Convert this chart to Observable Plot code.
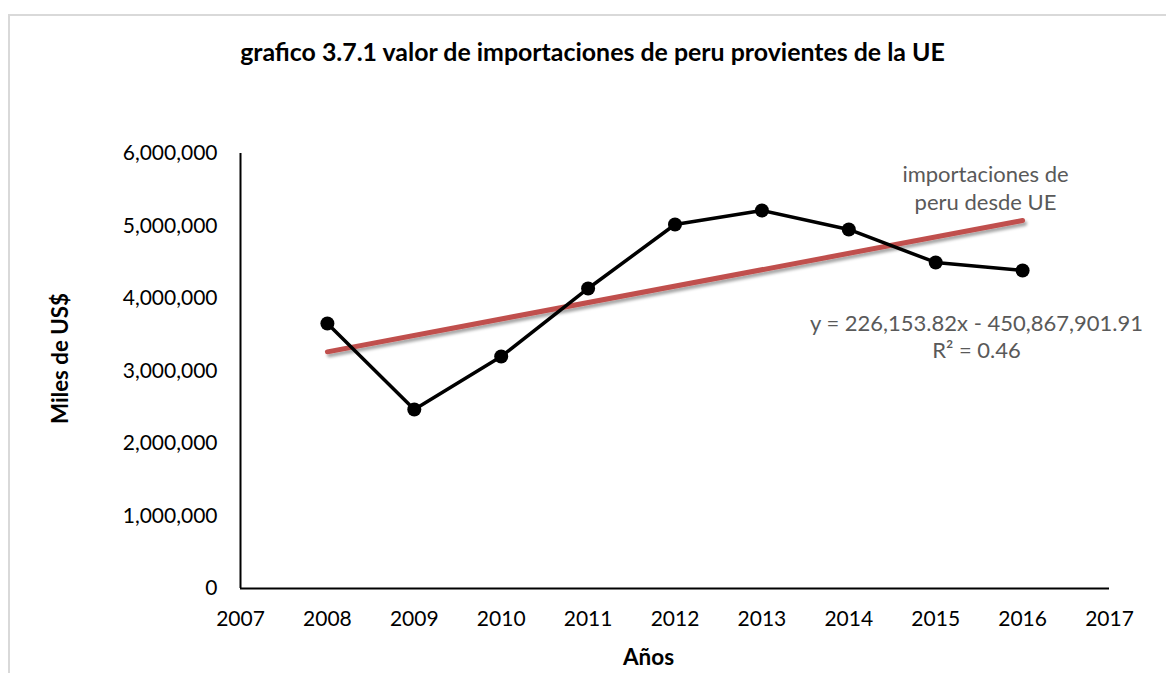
<!DOCTYPE html>
<html>
<head>
<meta charset="utf-8">
<script src="https://cdn.jsdelivr.net/npm/d3@7"></script>
<script src="https://cdn.jsdelivr.net/npm/@observablehq/plot@0.6"></script>
<style>
  html, body { margin: 0; padding: 0; background: #fff; }
  #wrap { position: relative; width: 1166px; height: 673px; overflow: hidden; }
  #border { position: absolute; left: 8px; top: 14px; width: 1200px; height: 700px;
            border-left: 2px solid #d9d9d9; border-top: 2px solid #d9d9d9; }
  #chart { position: absolute; left: 0; top: 0; }
</style>
</head>
<body>
<div id="wrap"><div id="border"></div><div id="chart"></div></div>
<script>
// ---- data ----
const years = [2008, 2009, 2010, 2011, 2012, 2013, 2014, 2015, 2016];
const values = [3655000, 2469000, 3200000, 4138000, 5021000, 5214000, 4952000, 4497000, 4386000];
const xTicks = [2007, 2008, 2009, 2010, 2011, 2012, 2013, 2014, 2015, 2016, 2017];
const yTicks = [0, 1000000, 2000000, 3000000, 4000000, 5000000, 6000000];
const titleText = "grafico 3.7.1 valor de importaciones de peru provientes de la UE";
const yLabel = "Miles de US$";
const xLabel = "Años";
const legendLines = ["importaciones de", "peru desde UE"];
const equationLines = ["y = 226,153.82x - 450,867,901.91", "R² = 0.46"];

const rows = years.map((y, i) => ({year: y, value: values[i]}));

const W = 1166, H = 673, ML = 240, MR = 57, MT = 153, MB = 85;
const FONT = "Lato, 'Open Sans', sans-serif";
// helper: absolute pixel position -> frame-anchored offsets (centered text)
const at = (x, y) => ({frameAnchor: "top-left", dx: x - ML, dy: y - MT, textAnchor: "middle", lineAnchor: "middle"});

const plot = Plot.plot({
  width: W, height: H,
  marginLeft: ML, marginRight: MR, marginTop: MT, marginBottom: MB,
  style: {fontFamily: FONT, fontSize: "21px", color: "#000", background: "transparent"},
  x: {domain: [2007, 2017], label: null},
  y: {domain: [0, 6000000], label: null},
  marks: [
    Plot.axisX({ticks: xTicks, tickFormat: d => String(d), tickSize: 0, tickPadding: 23, label: null, fontSize: 21}),
    Plot.axisY({ticks: yTicks, tickFormat: d3.format(","), tickSize: 0, tickPadding: 23, label: null, fontSize: 21}),
    Plot.ruleX([2007], {stroke: "#000", strokeWidth: 2}),
    Plot.ruleY([0], {stroke: "#000", strokeWidth: 2}),
    Plot.linearRegressionY(rows, {x: "year", y: "value", ci: 0, stroke: "#c0504d", strokeWidth: 5}),
    Plot.line(rows, {x: "year", y: "value", stroke: "#000", strokeWidth: 3.5}),
    Plot.dot(rows, {x: "year", y: "value", r: 7, fill: "#000", stroke: "none"}),
    Plot.text([titleText], {text: d => d, ...at(592, 53), fontWeight: "bold", fontSize: 24.9, fill: "#000"}),
    Plot.text([yLabel], {text: d => d, ...at(60, 358), rotate: -90, fontWeight: "bold", fontSize: 22.3, fill: "#000"}),
    Plot.text([xLabel], {text: d => d, ...at(648, 657), fontWeight: "bold", fontSize: 22.5, fill: "#000"}),
    Plot.text([legendLines[0]], {text: d => d, ...at(985, 174), fontSize: 22, fill: "#595959"}),
    Plot.text([legendLines[1]], {text: d => d, ...at(985, 202), fontSize: 22, fill: "#595959"}),
    Plot.text([equationLines[0]], {text: d => d, ...at(976, 323), fontSize: 22, fill: "#595959"}),
    Plot.text([equationLines[1]], {text: d => d, ...at(976, 350), fontSize: 22, fill: "#595959"})
  ]
});

// drop shadow on the trendline
const ns = "http://www.w3.org/2000/svg";
const svg = plot.tagName.toLowerCase() === "svg" ? plot : plot.querySelector("svg");
const defs = document.createElementNS(ns, "defs");
defs.innerHTML = '<filter id="shadow" x="-5%" y="-50%" width="110%" height="200%"><feDropShadow dx="2" dy="3" stdDeviation="1.8" flood-color="#000" flood-opacity="0.35"/></filter>';
svg.insertBefore(defs, svg.firstChild);
const reg = svg.querySelector('[aria-label="linear-regression"]');
if (reg) reg.setAttribute("filter", "url(#shadow)");

document.getElementById("chart").appendChild(plot);
</script>
</body>
</html>
